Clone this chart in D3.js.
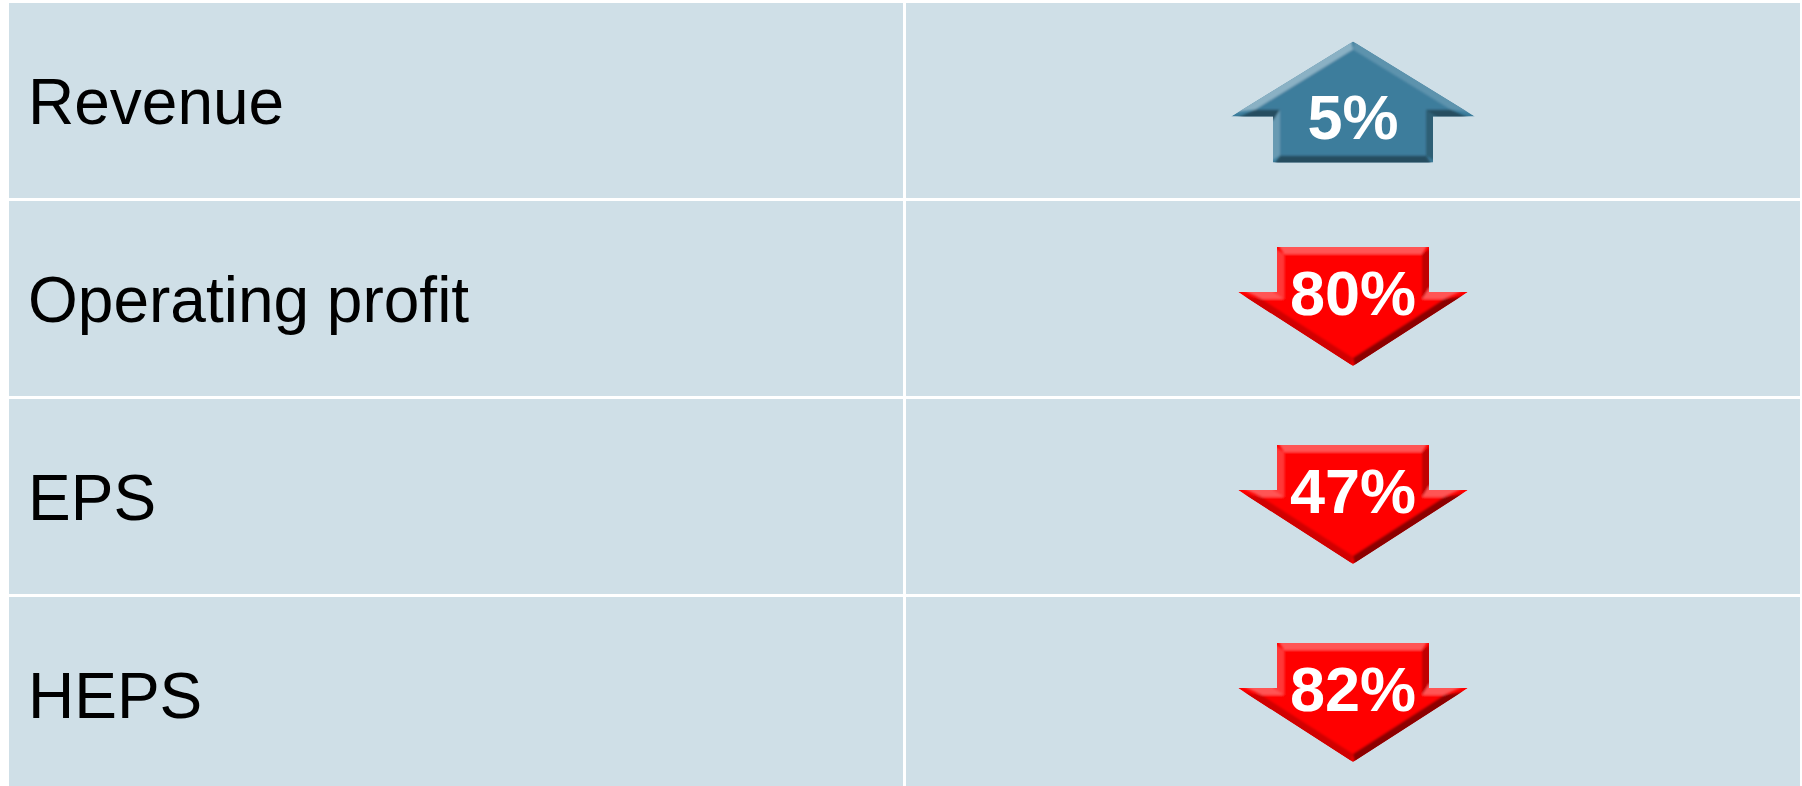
<!DOCTYPE html>
<html><head><meta charset="utf-8">
<script src="https://cdn.jsdelivr.net/npm/d3@7"></script>
<style>html,body{margin:0;padding:0;background:#fff;overflow:hidden}</style>
</head><body>
<svg id="chart" width="1802" height="786"></svg>
<script>
// ---- data ----
const metrics = ["Revenue", "Operating profit", "EPS", "HEPS"];
const changes = [5, -80, -47, -82];           // signed % change
const changeLabels = ["5%", "80%", "47%", "82%"];
const columns = ["metric", "change"];

// ---- styles ----
const cellFill = "#CFDFE7";
const upColor = "#3C7D9C";
const downColor = "#FF0000";
const fontFamily = "'Liberation Sans', Arial, Helvetica, sans-serif";
const arrowDims = {
  up:   {halfWing: 122, halfShaft: 80, head: 75, shaft: 46, dy: 1.5},
  down: {halfWing: 115, halfShaft: 76, head: 74, shaft: 45, dy: 8}
};
const bevel = 7;
const light = (() => { const l = [-0.55, -0.83]; const n = Math.hypot(l[0], l[1]); return [l[0]/n, l[1]/n]; })();

const svg = d3.select("#chart");
const defs = svg.append("defs");
defs.append("filter").attr("id", "soft").attr("x", "-10%").attr("y", "-10%").attr("width", "120%").attr("height", "120%")
  .append("feGaussianBlur").attr("stdDeviation", 1.3);

const x = d3.scaleBand().domain(columns).range([9, 1800]).paddingInner(3/897);
const y = d3.scaleBand().domain(metrics).range([3, 792]).paddingInner(3/198);

const rows = metrics.map((m, i) => ({metric: m, value: changes[i], label: changeLabels[i]}));

// ---- cells ----
svg.append("g").selectAll("rect")
  .data(d3.cross(metrics, columns))
  .join("rect")
  .attr("x", d => x(d[1]))
  .attr("y", d => y(d[0]))
  .attr("width", x.bandwidth())
  .attr("height", y.bandwidth())
  .attr("fill", cellFill);

// ---- metric labels ----
const fs = 64;
svg.append("g").selectAll("text")
  .data(rows)
  .join("text")
  .attr("x", x("metric") + 19)
  .attr("y", d => y(d.metric) + y.bandwidth()/2 + fs*0.36)
  .attr("font-family", fontFamily)
  .attr("font-size", fs)
  .attr("fill", "#000")
  .text(d => d.metric);

// ---- arrows ----
function arrowPoints(cx, cy, up) {
  const a = up ? arrowDims.up : arrowDims.down;
  const total = a.head + a.shaft;
  const top = cy + a.dy - total/2;
  if (up) {
    const hb = top + a.head, bot = top + total;
    return [[cx, top], [cx + a.halfWing, hb], [cx + a.halfShaft, hb], [cx + a.halfShaft, bot],
            [cx - a.halfShaft, bot], [cx - a.halfShaft, hb], [cx - a.halfWing, hb]];
  } else {
    const sb = top + a.shaft, tip = top + total;
    return [[cx - a.halfShaft, top], [cx + a.halfShaft, top], [cx + a.halfShaft, sb], [cx + a.halfWing, sb],
            [cx, tip], [cx - a.halfWing, sb], [cx - a.halfShaft, sb]];
  }
}

function insetPolygon(pts, d) {
  const n = pts.length;
  const edges = pts.map((p, i) => {
    const q = pts[(i + 1) % n];
    const len = Math.hypot(q[0]-p[0], q[1]-p[1]);
    const dir = [(q[0]-p[0])/len, (q[1]-p[1])/len];
    let nrm = [dir[1], -dir[0]];
    const mid = [(p[0]+q[0])/2 + nrm[0]*0.5, (p[1]+q[1])/2 + nrm[1]*0.5];
    if (d3.polygonContains(pts, mid)) nrm = [-nrm[0], -nrm[1]]; // make outward
    return {p, q, dir, out: nrm};
  });
  const inner = pts.map((p, i) => {
    const e1 = edges[(i - 1 + n) % n], e2 = edges[i];
    const a1 = [e1.p[0] - e1.out[0]*d, e1.p[1] - e1.out[1]*d];
    const a2 = [e2.p[0] - e2.out[0]*d, e2.p[1] - e2.out[1]*d];
    const den = e1.dir[0]*e2.dir[1] - e1.dir[1]*e2.dir[0];
    if (Math.abs(den) < 1e-9) return [p[0] - e2.out[0]*d, p[1] - e2.out[1]*d];
    const t = ((a2[0]-a1[0])*e2.dir[1] - (a2[1]-a1[1])*e2.dir[0]) / den;
    return [a1[0] + e1.dir[0]*t, a1[1] + e1.dir[1]*t];
  });
  return {edges, inner};
}

const line = d3.line().curve(d3.curveLinearClosed);
const gA = svg.append("g");

rows.forEach((r, k) => {
  const up = r.value > 0;
  const base = up ? upColor : downColor;
  const cx = x("change") + x.bandwidth()/2;
  const cy = y(r.metric) + y.bandwidth()/2;
  const pts = arrowPoints(cx, cy, up);
  const {edges, inner} = insetPolygon(pts, bevel);
  const clipId = "clip" + k;
  defs.append("clipPath").attr("id", clipId).append("path").attr("d", line(pts));
  const g = gA.append("g");
  const gc = g.append("g").attr("clip-path", `url(#${clipId})`);
  gc.append("path").attr("d", line(pts)).attr("fill", base);
  const gf = gc.append("g").attr("filter", "url(#soft)");
  edges.forEach((e, i) => {
    const j = (i + 1) % pts.length;
    const s = e.out[0]*light[0] + e.out[1]*light[1];
    const col = s > 0 ? d3.interpolateRgb(base, "#ffffff")(s*0.4)
                      : d3.interpolateRgb(base, "#000000")(-s*0.45);
    // extend outward a bit so the blur does not bleed the background in
    const o = 4;
    const pi = [pts[i][0] + e.out[0]*o, pts[i][1] + e.out[1]*o];
    const pj = [pts[j][0] + e.out[0]*o, pts[j][1] + e.out[1]*o];
    gf.append("path")
      .attr("d", line([pi, pj, inner[j], inner[i]]))
      .attr("fill", col);
  });
  gf.append("path").attr("d", line(inner)).attr("fill", base);
  const a = up ? arrowDims.up : arrowDims.down;
  const top = cy + a.dy - (a.head + a.shaft)/2;
  const bot = top + a.head + a.shaft;
  g.append("text")
    .attr("x", cx)
    .attr("y", up ? bot - 24 : top + 68)
    .attr("text-anchor", "middle")
    .attr("font-family", fontFamily)
    .attr("font-weight", "bold")
    .attr("font-size", 63)
    .attr("fill", "#fff")
    .text(r.label);
});
</script>
</body></html>
